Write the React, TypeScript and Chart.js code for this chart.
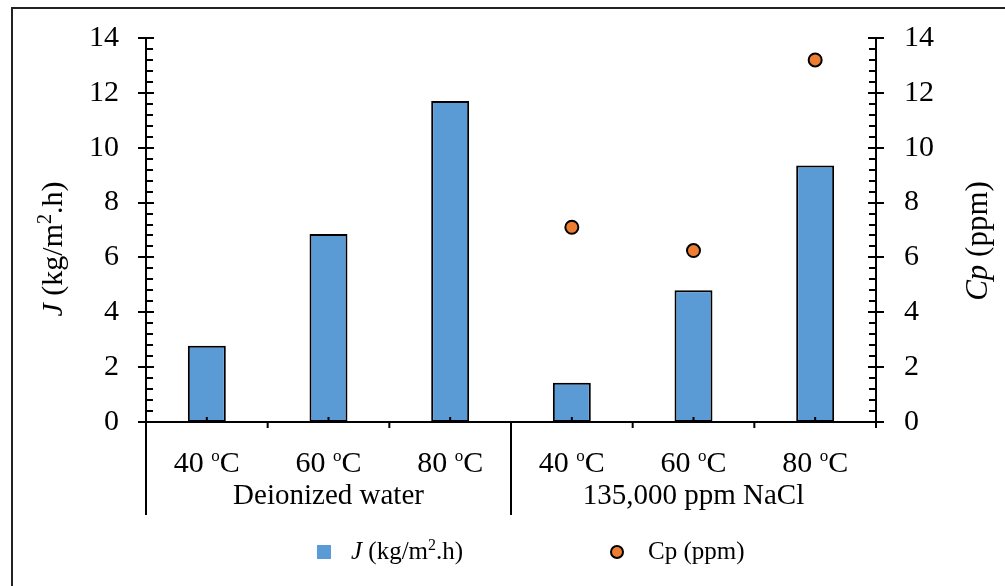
import React, { useEffect, useRef } from "react";
import { Chart, registerables } from "chart.js";

Chart.register(...registerables);

// ---- data ----
const categories = ["40 °C", "60 °C", "80 °C", "40 °C", "60 °C", "80 °C"];
const temperatures = ["40", "60", "80", "40", "60", "80"];
const groupNames = ["Deionized water", "135,000 ppm NaCl"];
const groupOfCategory = [0, 0, 0, 1, 1, 1];
const fluxJ = [2.78, 6.85, 11.7, 1.43, 4.8, 9.35];
const cpPpm: (number | null)[] = [null, null, null, 7.1, 6.25, 13.2];
const yMax = 14;
const yStep = 2;
const yMinorStep = 0.4;

// ---- style ----
const FONT = '"Liberation Serif", "Times New Roman", serif';
const BLUE = "#5B9BD5";
const ORANGE = "#ED7D31";
const INK = "#000000";

type Seg = { t: string; i?: boolean; s?: boolean };

function drawRich(
  ctx: CanvasRenderingContext2D,
  segs: Seg[],
  x: number,
  y: number,
  size: number,
  align: "center" | "left",
  supScale = 0.65
) {
  const fontOf = (sg: Seg) =>
    `${sg.i ? "italic " : ""}${sg.s ? Math.round(size * supScale) : size}px ${FONT}`;
  const widths = segs.map((sg) => {
    ctx.font = fontOf(sg);
    return ctx.measureText(sg.t).width;
  });
  const total = widths.reduce((a, b) => a + b, 0);
  let cx = align === "center" ? x - total / 2 : x;
  ctx.textAlign = "left";
  ctx.textBaseline = "alphabetic";
  ctx.fillStyle = INK;
  segs.forEach((sg, k) => {
    ctx.font = fontOf(sg);
    ctx.fillText(sg.t, cx, sg.s ? y - size * 0.38 : y);
    cx += widths[k];
  });
}

const decorPlugin = {
  id: "decor",
  afterDraw(chart: any) {
    const { ctx, chartArea: ca, scales } = chart;
    const x = scales.x;
    const y = scales.y;
    const y2 = scales.y2;
    const line = (x1: number, y1: number, x2: number, y2_: number) => {
      ctx.beginPath();
      ctx.moveTo(x1, y1);
      ctx.lineTo(x2, y2_);
      ctx.stroke();
    };
    ctx.save();

    // outer frame
    ctx.strokeStyle = "#222222";
    ctx.lineWidth = 2;
    ctx.beginPath();
    ctx.moveTo(12, 600);
    ctx.lineTo(12, 8);
    ctx.lineTo(1020, 8);
    ctx.stroke();

    ctx.strokeStyle = INK;
    ctx.lineWidth = 2;
    // axis lines
    line(ca.left, ca.top, ca.left, ca.bottom);
    line(ca.right, ca.top, ca.right, ca.bottom);
    line(ca.left, ca.bottom, ca.right, ca.bottom);

    // y major/minor ticks
    const nMinor = Math.round(yMax / yMinorStep);
    const perMajor = Math.round(yStep / yMinorStep);
    for (let k = 0; k <= nMinor; k++) {
      const v = k * yMinorStep;
      const p1 = Math.round(y.getPixelForValue(v));
      const p2 = Math.round(y2.getPixelForValue(v));
      if (k % perMajor === 0) {
        line(ca.left - 8, p1, ca.left + 8, p1);
        line(ca.right - 8, p2, ca.right + 8, p2);
      } else {
        line(ca.left, p1, ca.left + 7, p1);
        line(ca.right - 7, p2, ca.right, p2);
      }
    }

    // x ticks
    const centers = categories.map((_, i) => x.getPixelForValue(i));
    const n = centers.length;
    for (let i = 0; i <= n; i++) {
      const bx =
        i === 0 ? ca.left : i === n ? ca.right : (centers[i - 1] + centers[i]) / 2;
      const groupStart =
        i === 0 || (i < n && groupOfCategory[i] !== groupOfCategory[i - 1]);
      line(bx, ca.bottom, bx, ca.bottom + (groupStart ? 93 : 6));
    }
    centers.forEach((c) => line(c, ca.bottom, c, ca.bottom - 5));

    // category labels
    centers.forEach((c, i) => {
      drawRich(ctx, [{ t: temperatures[i] + " " }, { t: "o", s: true }, { t: "C" }], c, ca.bottom + 50, 30, "center", 0.58);
    });
    // group labels
    groupNames.forEach((name, g) => {
      const cs = centers.filter((_, i) => groupOfCategory[i] === g);
      const mid = cs.reduce((a, b) => a + b, 0) / cs.length;
      drawRich(ctx, [{ t: name }], mid, ca.bottom + 82, 29, "center");
    });

    // axis titles
    ctx.save();
    ctx.translate(62, 249);
    ctx.rotate(-Math.PI / 2);
    drawRich(ctx, [{ t: "J", i: true }, { t: " (kg/m" }, { t: "2", s: true }, { t: ".h)" }], 0, 0, 30, "center");
    ctx.restore();

    ctx.save();
    ctx.translate(987, 241);
    ctx.rotate(-Math.PI / 2);
    drawRich(ctx, [{ t: "Cp", i: true }, { t: " (ppm)" }], 0, 0, 31, "center");
    ctx.restore();

    // legend
    ctx.fillStyle = BLUE;
    ctx.fillRect(317, 545, 14, 14);
    drawRich(ctx, [{ t: "J", i: true }, { t: " (kg/m" }, { t: "2", s: true }, { t: ".h)" }], 351, 559, 25, "left");
    ctx.beginPath();
    ctx.arc(617, 552, 6, 0, Math.PI * 2);
    ctx.fillStyle = ORANGE;
    ctx.fill();
    ctx.lineWidth = 2;
    ctx.strokeStyle = INK;
    ctx.stroke();
    drawRich(ctx, [{ t: "Cp (ppm)" }], 648, 559, 25, "left");

    ctx.restore();
  },
};

export default function App() {
  const ref = useRef<HTMLCanvasElement | null>(null);
  useEffect(() => {
    if (!ref.current) return;
    const tickFont = { family: FONT, size: 30 };
    const chart = new Chart(ref.current, {
      type: "bar",
      data: {
        labels: categories,
        datasets: [
          {
            type: "line",
            label: "Cp (ppm)",
            data: cpPpm,
            yAxisID: "y2",
            showLine: false,
            pointRadius: 6.5,
            pointBorderWidth: 2,
            pointBackgroundColor: ORANGE,
            pointBorderColor: INK,
            backgroundColor: ORANGE,
            borderColor: INK,
            order: 0,
          } as any,
          {
            type: "bar",
            label: "J (kg/m2.h)",
            data: fluxJ,
            yAxisID: "y",
            backgroundColor: BLUE,
            borderColor: INK,
            borderWidth: 2,
            borderSkipped: false,
            categoryPercentage: 1,
            barPercentage: 0.312,
            order: 1,
          } as any,
        ],
      },
      options: {
        responsive: false,
        animation: false,
        layout: { padding: { top: 38, left: 0, right: 0, bottom: 0 } },
        plugins: { legend: { display: false }, tooltip: { enabled: false } },
        scales: {
          x: {
            type: "category",
            offset: true,
            grid: { display: false },
            border: { display: false },
            ticks: { display: false },
            afterFit: (s: any) => {
              s.height = 164;
              s.paddingLeft = 0;
              s.paddingRight = 0;
            },
          },
          y: {
            position: "left",
            min: 0,
            max: yMax,
            grid: { display: false },
            border: { display: false },
            ticks: { stepSize: yStep, font: tickFont, color: INK, padding: 19 },
            afterFit: (s: any) => {
              s.width = 146;
              s.paddingTop = 0;
              s.paddingBottom = 0;
            },
          },
          y2: {
            position: "right",
            min: 0,
            max: yMax,
            grid: { display: false },
            border: { display: false },
            ticks: { stepSize: yStep, font: tickFont, color: INK, padding: 20 },
            afterFit: (s: any) => {
              s.width = 129;
              s.paddingTop = 0;
              s.paddingBottom = 0;
            },
          },
        },
      } as any,
      plugins: [decorPlugin],
    });
    return () => chart.destroy();
  }, []);
  return (
    <div style={{ position: "absolute", left: 0, top: 0, width: 1005, height: 586, background: "#fff" }}>
      <canvas ref={ref} width={1005} height={586} style={{ display: "block" }} />
    </div>
  );
}
